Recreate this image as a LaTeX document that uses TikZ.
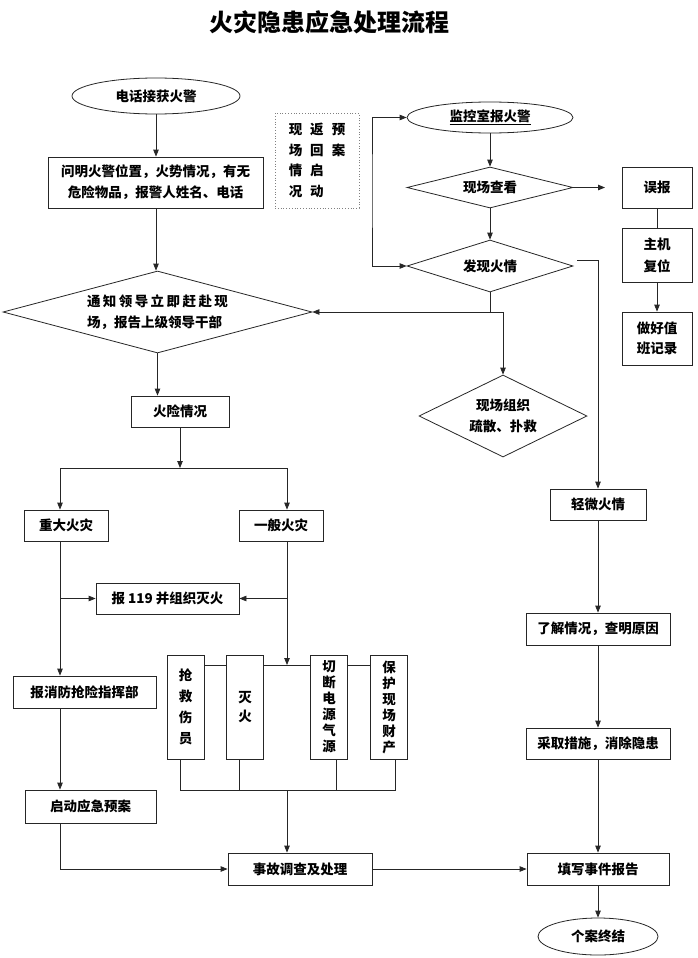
\documentclass[tikz,border=0pt]{standalone}
\usepackage{fontspec}
\setmainfont{Noto Sans CJK SC}
\usetikzlibrary{shapes.geometric,arrows.meta,calc}
\begin{document}
\begin{tikzpicture}[x=1pt,y=-1pt,
  every node/.style={font=\bfseries\fontsize{13.5}{21}\selectfont, inner sep=0pt, text=black},
  box/.style={draw=black!85, line width=0.8pt, rectangle},
  vbox/.style={box, minimum width=37pt, minimum height=104pt, align=center},
  dia/.style={draw=black!85, line width=0.8pt, diamond},
  ell/.style={draw=black!85, line width=0.8pt, ellipse},
  line/.style={draw=black!85, line width=0.8pt},
  arr/.style={line, -{Triangle[length=7pt,width=5.5pt]}},
  arrtwo/.style={line, {Triangle[length=7pt,width=5.5pt]}-{Triangle[length=7pt,width=5.5pt]}},
]
\fill[white] (0,0) rectangle (697,958);
\useasboundingbox (0,0) rectangle (697,958);

% title
\node[font=\bfseries\fontsize{24}{28}\selectfont] (title) at (329,22) {火灾隐患应急处理流程};

% left column
\node[ell, minimum width=168pt, minimum height=36pt] (e1) at (156,96) {电话接获火警};
\node[box, minimum width=215pt, minimum height=51pt, align=center] (q) at (155.5,182.5) {问明火警位置，火势情况，有无\\危险物品，报警人姓名、电话};
\node[dia, shape aspect=3.77, minimum width=309pt, minimum height=82pt, align=left] (d1) at (157.5,312) {{\addfontfeature{LetterSpace=18}通知领导立即赶赴现}\\场，报告上级领导干部};
\node[box, minimum width=98pt, minimum height=31pt] (hx) at (180,411.5) {火险情况};
\node[box, minimum width=84pt, minimum height=31pt] (zd) at (66,525.5) {重大火灾};
\node[box, minimum width=84pt, minimum height=31pt] (yb) at (281,525.5) {一般火灾};
\node[box, minimum width=143pt, minimum height=31pt] (b119) at (167.5,598.5) {报 119 并组织灭火};
\node[box, minimum width=143pt, minimum height=32pt] (bx) at (84.5,692) {报消防抢险指挥部};
\node[box, minimum width=131pt, minimum height=33pt] (qd) at (90.5,806.5) {启动应急预案};

\node[vbox, font=\bfseries\fontsize{13.5}{21}\selectfont] (v1) at (185.5,707) {抢\\救\\伤\\员};
\node[vbox, font=\bfseries\fontsize{13.5}{19}\selectfont] (v2) at (245,707) {灭\\火};
\node[vbox, font=\bfseries\fontsize{13.5}{16}\selectfont] (v3) at (329,707) {切\\断\\电\\源\\气\\源};
\node[vbox, font=\bfseries\fontsize{13.5}{16}\selectfont] (v4) at (389,707) {保\\护\\现\\场\\财\\产};

\node[box, minimum width=144pt, minimum height=32pt] (sg) at (300,869) {事故调查及处理};
\node[box, minimum width=142pt, minimum height=32pt] (tx) at (598,869) {填写事件报告};
\node[ell, minimum width=120pt, minimum height=37pt] (end) at (598,936.5) {个案终结};

% dotted note
\node[draw=gray, dotted, line width=0.8pt, minimum width=84pt, minimum height=95pt, align=left, font=\bfseries\fontsize{13.5}{20.5}\selectfont] (db) at (317,160.5) {现\hspace{8pt}返\hspace{8pt}预\\场\hspace{8pt}回\hspace{8pt}案\\情\hspace{8pt}启\\况\hspace{8pt}动};

% right column
\node[ell, minimum width=166pt, minimum height=31pt] (e2) at (490,117.5) {\underline{监控室报火警}};
\node[dia, shape aspect=4.05, minimum width=166pt, minimum height=41pt] (d2) at (490,187.5) {现场查看};
\node[dia, shape aspect=3.2, minimum width=166pt, minimum height=52pt] (d3) at (490,266) {发现火情};
\node[dia, shape aspect=2.05, minimum width=168pt, minimum height=82pt, align=center] (d4) at (503,416) {现场组织\\疏散、扑救};
\node[box, minimum width=70pt, minimum height=41pt] (wb) at (657,187.5) {误报};
\node[box, minimum width=70pt, minimum height=54pt, align=center, font=\bfseries\fontsize{13.5}{22}\selectfont] (zj) at (657,255) {主机\\复位};
\node[box, minimum width=70pt, minimum height=53pt, align=center, font=\bfseries\fontsize{13.5}{20}\selectfont] (zh) at (657,338.5) {做好值\\班记录};
\node[box, minimum width=96pt, minimum height=31pt] (qw) at (598,504.5) {轻微火情};
\node[box, minimum width=144pt, minimum height=32pt] (lj) at (598,629) {了解情况，查明原因};
\node[box, minimum width=144pt, minimum height=31pt] (cq) at (598,743.5) {采取措施，消除隐患};

% coordinates
\coordinate (j1) at (180,468);
\coordinate (bl) at (60,468);
\coordinate (br) at (287,468);
\coordinate (bus1) at (287,665);
\coordinate (bus2) at (287,790);
\coordinate (c1) at (180,790);
\coordinate (c2) at (239,790);
\coordinate (c3) at (336,790);
\coordinate (c4) at (395,790);
\coordinate (r1) at (577,260);
\coordinate (wbt) at (605,187.5);
\coordinate (lp) at (372,190);
\coordinate (j2) at (490,312);

% left connectors
\draw[arr] (e1.south) -- (e1.south |- q.north);
\draw[arr] (e1.south |- q.south) -- (e1.south |- d1.north);
\draw[arr] (d1.south) -- (d1.south |- hx.north);
\draw[arr] (hx.south) -- (j1);
\draw[line] (bl) -- (br);
\draw[arr] (bl) -- (bl |- zd.north);
\draw[arr] (br) -- (br |- yb.north);
\draw[arr] (bl |- zd.south) -- (bl |- bx.north);
\draw[arr] (bl |- b119.west) -- (b119.west);
\draw[arr] (br |- yb.south) -- (bus1);
\draw[arr] (br |- b119.east) -- (b119.east);
\draw[line] (v1.east |- bus1) -- (v2.west |- bus1);
\draw[line] (v2.east |- bus1) -- (v3.west |- bus1);
\draw[line] (v3.east |- bus1) -- (v4.west |- bus1);
\draw[line] (c1 |- v1.south) -- (c1) -- (c4) -- (c4 |- v4.south);
\draw[line] (c2 |- v2.south) -- (c2);
\draw[line] (c3 |- v3.south) -- (c3);
\draw[arr] (bus2) -- (bus2 |- sg.north);
\draw[arr] (bl |- bx.south) -- (bl |- qd.north);
\draw[arr] (bl |- qd.south) |- (sg.west);
\draw[arr] (sg.east) -- (tx.west);
\draw[arr] (tx.south) -- (end.north);

% right connectors
\draw[arrtwo] (e2.west) -| (lp) |- (d3.west);
\draw[arr] (e2.south) -- (d2.north);
\draw[arr] (d2.south) -- (d3.north);
\draw[arr] (d2.east) -- (wbt);
\draw[line] (wb.south) -- (zj.north);
\draw[arr] (zj.south) -- (zh.north);
\draw[line] (d3.south) -- (j2);
\draw[arr] (j2) -- (d1.east);
\draw[arr] (j2) -| (d4.north);
\draw[arr] (r1) -| (qw.north);
\draw[arr] (qw.south) -- (lj.north);
\draw[arr] (lj.south) -- (cq.north);
\draw[arr] (cq.south) -- (tx.north);
\end{tikzpicture}
\end{document}
